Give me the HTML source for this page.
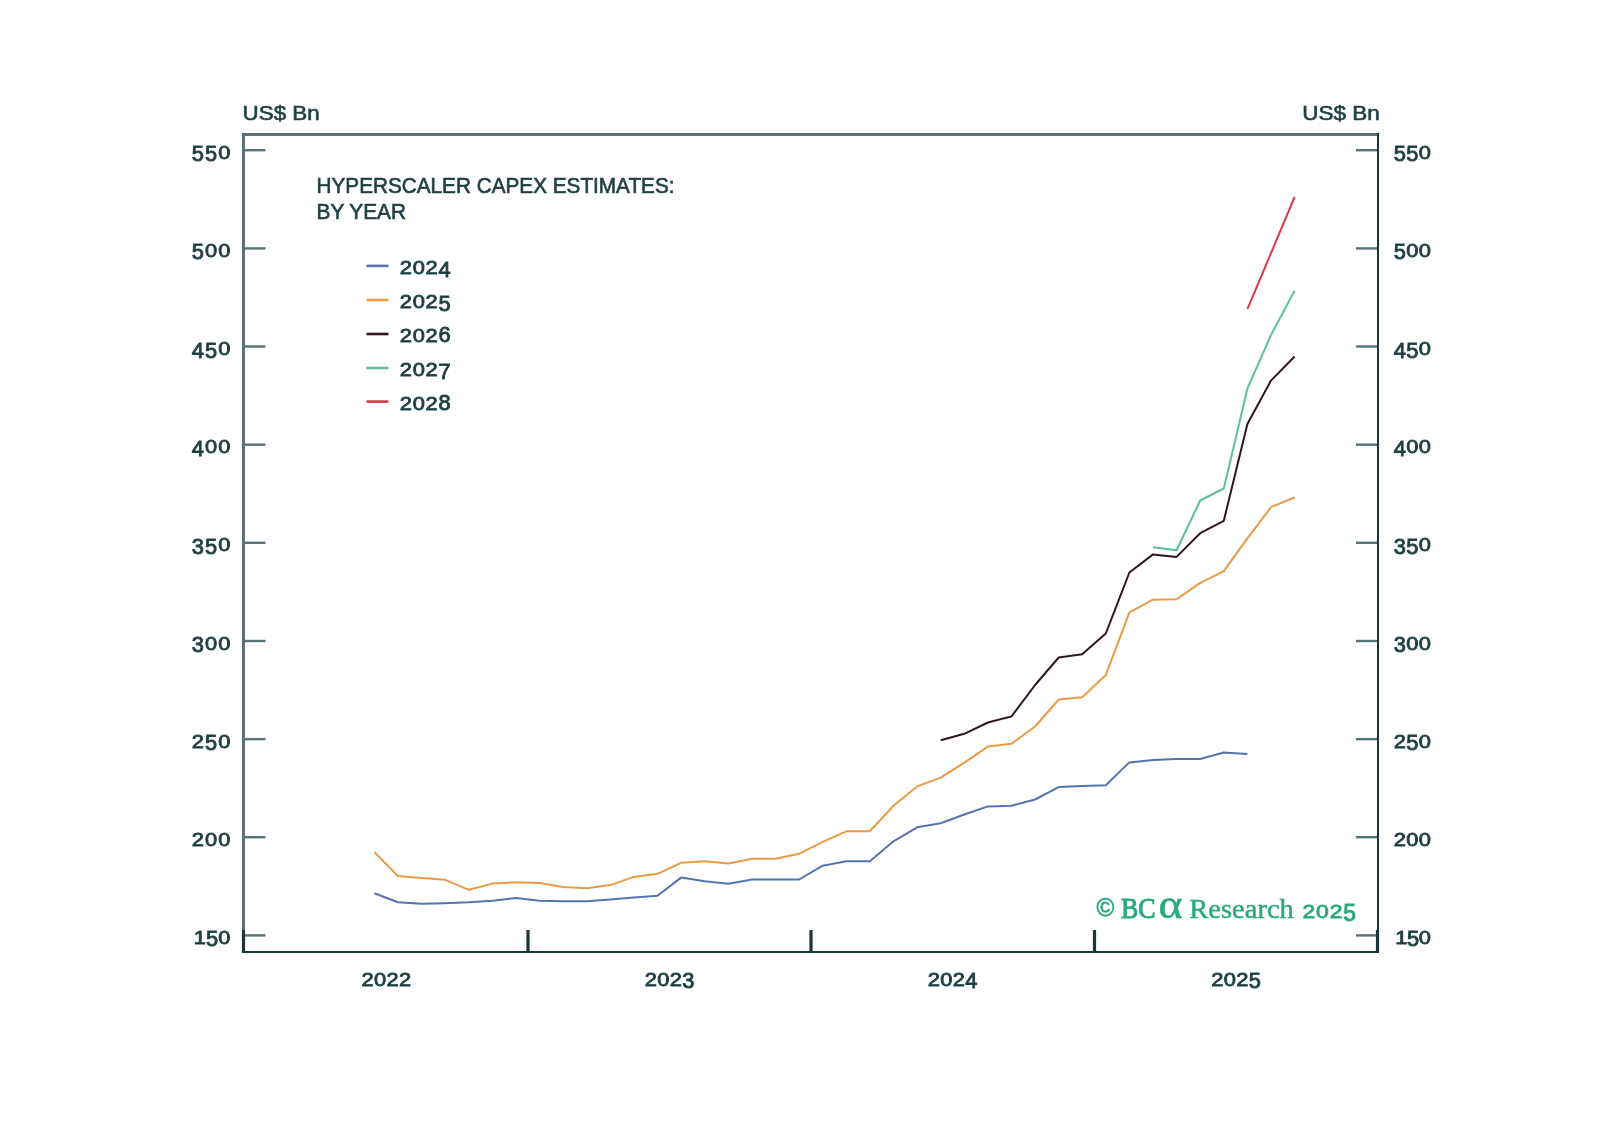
<!DOCTYPE html><html><head><meta charset="utf-8"><title>Hyperscaler Capex Estimates</title>
<style>html,body{margin:0;padding:0;background:#fff;}svg{display:block;}text{font-family:"Liberation Sans",sans-serif;}</style></head><body>
<svg width="1598" height="1144" viewBox="0 0 1598 1144">
<rect width="1598" height="1144" fill="#fff"/>
<g opacity="0.999">
<text x="242.6" y="120.4" font-size="21" fill="#1f3f40" stroke="#1f3f40" stroke-width="0.65" textLength="77" lengthAdjust="spacingAndGlyphs">US$ Bn</text>
<text x="1302.2" y="120.4" font-size="21" fill="#1f3f40" stroke="#1f3f40" stroke-width="0.65" textLength="77.5" lengthAdjust="spacingAndGlyphs">US$ Bn</text>
<rect x="242" y="133" width="3" height="820" fill="#587276"/>
<rect x="242" y="133" width="1137" height="3" fill="#587276"/>
<rect x="1377" y="133" width="2" height="820" fill="#1a3437"/>
<rect x="242" y="951" width="1137" height="2" fill="#1a3437"/>
<rect x="245" y="149.0" width="20.5" height="2.4" fill="#587276"/>
<rect x="1356" y="149.0" width="21" height="2.4" fill="#587276"/>
<text transform="matrix(1.151 0 0 1.173 197.85 161.20)" x="0" y="0" font-size="19" font-weight="normal" fill="#1f3f40" stroke="#1f3f40" stroke-width="0.77" text-anchor="middle">5</text><text transform="matrix(1.151 0 0 1.173 211.05 161.20)" x="0" y="0" font-size="19" font-weight="normal" fill="#1f3f40" stroke="#1f3f40" stroke-width="0.77" text-anchor="middle">5</text><text transform="matrix(1.151 0 0 0.992 224.25 158.80)" x="0" y="0" font-size="19" font-weight="normal" fill="#1f3f40" stroke="#1f3f40" stroke-width="0.84" text-anchor="middle">0</text>
<text transform="matrix(1.151 0 0 1.173 1399.75 161.20)" x="0" y="0" font-size="19" font-weight="normal" fill="#1f3f40" stroke="#1f3f40" stroke-width="0.77" text-anchor="middle">5</text><text transform="matrix(1.151 0 0 1.173 1412.25 161.20)" x="0" y="0" font-size="19" font-weight="normal" fill="#1f3f40" stroke="#1f3f40" stroke-width="0.77" text-anchor="middle">5</text><text transform="matrix(1.151 0 0 0.992 1424.75 158.80)" x="0" y="0" font-size="19" font-weight="normal" fill="#1f3f40" stroke="#1f3f40" stroke-width="0.84" text-anchor="middle">0</text>
<rect x="245" y="247.2" width="20.5" height="2.4" fill="#587276"/>
<rect x="1356" y="247.2" width="21" height="2.4" fill="#587276"/>
<text transform="matrix(1.151 0 0 1.173 197.85 259.35)" x="0" y="0" font-size="19" font-weight="normal" fill="#1f3f40" stroke="#1f3f40" stroke-width="0.77" text-anchor="middle">5</text><text transform="matrix(1.151 0 0 0.992 211.05 256.95)" x="0" y="0" font-size="19" font-weight="normal" fill="#1f3f40" stroke="#1f3f40" stroke-width="0.84" text-anchor="middle">0</text><text transform="matrix(1.151 0 0 0.992 224.25 256.95)" x="0" y="0" font-size="19" font-weight="normal" fill="#1f3f40" stroke="#1f3f40" stroke-width="0.84" text-anchor="middle">0</text>
<text transform="matrix(1.151 0 0 1.173 1399.75 259.35)" x="0" y="0" font-size="19" font-weight="normal" fill="#1f3f40" stroke="#1f3f40" stroke-width="0.77" text-anchor="middle">5</text><text transform="matrix(1.151 0 0 0.992 1412.25 256.95)" x="0" y="0" font-size="19" font-weight="normal" fill="#1f3f40" stroke="#1f3f40" stroke-width="0.84" text-anchor="middle">0</text><text transform="matrix(1.151 0 0 0.992 1424.75 256.95)" x="0" y="0" font-size="19" font-weight="normal" fill="#1f3f40" stroke="#1f3f40" stroke-width="0.84" text-anchor="middle">0</text>
<rect x="245" y="345.3" width="20.5" height="2.4" fill="#587276"/>
<rect x="1356" y="345.3" width="21" height="2.4" fill="#587276"/>
<text transform="matrix(1.151 0 0 1.173 197.85 357.50)" x="0" y="0" font-size="19" font-weight="normal" fill="#1f3f40" stroke="#1f3f40" stroke-width="0.77" text-anchor="middle">4</text><text transform="matrix(1.151 0 0 1.173 211.05 357.50)" x="0" y="0" font-size="19" font-weight="normal" fill="#1f3f40" stroke="#1f3f40" stroke-width="0.77" text-anchor="middle">5</text><text transform="matrix(1.151 0 0 0.992 224.25 355.10)" x="0" y="0" font-size="19" font-weight="normal" fill="#1f3f40" stroke="#1f3f40" stroke-width="0.84" text-anchor="middle">0</text>
<text transform="matrix(1.151 0 0 1.173 1399.75 357.50)" x="0" y="0" font-size="19" font-weight="normal" fill="#1f3f40" stroke="#1f3f40" stroke-width="0.77" text-anchor="middle">4</text><text transform="matrix(1.151 0 0 1.173 1412.25 357.50)" x="0" y="0" font-size="19" font-weight="normal" fill="#1f3f40" stroke="#1f3f40" stroke-width="0.77" text-anchor="middle">5</text><text transform="matrix(1.151 0 0 0.992 1424.75 355.10)" x="0" y="0" font-size="19" font-weight="normal" fill="#1f3f40" stroke="#1f3f40" stroke-width="0.84" text-anchor="middle">0</text>
<rect x="245" y="443.5" width="20.5" height="2.4" fill="#587276"/>
<rect x="1356" y="443.5" width="21" height="2.4" fill="#587276"/>
<text transform="matrix(1.151 0 0 1.173 197.85 455.65)" x="0" y="0" font-size="19" font-weight="normal" fill="#1f3f40" stroke="#1f3f40" stroke-width="0.77" text-anchor="middle">4</text><text transform="matrix(1.151 0 0 0.992 211.05 453.25)" x="0" y="0" font-size="19" font-weight="normal" fill="#1f3f40" stroke="#1f3f40" stroke-width="0.84" text-anchor="middle">0</text><text transform="matrix(1.151 0 0 0.992 224.25 453.25)" x="0" y="0" font-size="19" font-weight="normal" fill="#1f3f40" stroke="#1f3f40" stroke-width="0.84" text-anchor="middle">0</text>
<text transform="matrix(1.151 0 0 1.173 1399.75 455.65)" x="0" y="0" font-size="19" font-weight="normal" fill="#1f3f40" stroke="#1f3f40" stroke-width="0.77" text-anchor="middle">4</text><text transform="matrix(1.151 0 0 0.992 1412.25 453.25)" x="0" y="0" font-size="19" font-weight="normal" fill="#1f3f40" stroke="#1f3f40" stroke-width="0.84" text-anchor="middle">0</text><text transform="matrix(1.151 0 0 0.992 1424.75 453.25)" x="0" y="0" font-size="19" font-weight="normal" fill="#1f3f40" stroke="#1f3f40" stroke-width="0.84" text-anchor="middle">0</text>
<rect x="245" y="541.6" width="20.5" height="2.4" fill="#587276"/>
<rect x="1356" y="541.6" width="21" height="2.4" fill="#587276"/>
<text transform="matrix(1.151 0 0 1.173 197.85 553.80)" x="0" y="0" font-size="19" font-weight="normal" fill="#1f3f40" stroke="#1f3f40" stroke-width="0.77" text-anchor="middle">3</text><text transform="matrix(1.151 0 0 1.173 211.05 553.80)" x="0" y="0" font-size="19" font-weight="normal" fill="#1f3f40" stroke="#1f3f40" stroke-width="0.77" text-anchor="middle">5</text><text transform="matrix(1.151 0 0 0.992 224.25 551.40)" x="0" y="0" font-size="19" font-weight="normal" fill="#1f3f40" stroke="#1f3f40" stroke-width="0.84" text-anchor="middle">0</text>
<text transform="matrix(1.151 0 0 1.173 1399.75 553.80)" x="0" y="0" font-size="19" font-weight="normal" fill="#1f3f40" stroke="#1f3f40" stroke-width="0.77" text-anchor="middle">3</text><text transform="matrix(1.151 0 0 1.173 1412.25 553.80)" x="0" y="0" font-size="19" font-weight="normal" fill="#1f3f40" stroke="#1f3f40" stroke-width="0.77" text-anchor="middle">5</text><text transform="matrix(1.151 0 0 0.992 1424.75 551.40)" x="0" y="0" font-size="19" font-weight="normal" fill="#1f3f40" stroke="#1f3f40" stroke-width="0.84" text-anchor="middle">0</text>
<rect x="245" y="639.8" width="20.5" height="2.4" fill="#587276"/>
<rect x="1356" y="639.8" width="21" height="2.4" fill="#587276"/>
<text transform="matrix(1.151 0 0 1.173 197.85 651.95)" x="0" y="0" font-size="19" font-weight="normal" fill="#1f3f40" stroke="#1f3f40" stroke-width="0.77" text-anchor="middle">3</text><text transform="matrix(1.151 0 0 0.992 211.05 649.55)" x="0" y="0" font-size="19" font-weight="normal" fill="#1f3f40" stroke="#1f3f40" stroke-width="0.84" text-anchor="middle">0</text><text transform="matrix(1.151 0 0 0.992 224.25 649.55)" x="0" y="0" font-size="19" font-weight="normal" fill="#1f3f40" stroke="#1f3f40" stroke-width="0.84" text-anchor="middle">0</text>
<text transform="matrix(1.151 0 0 1.173 1399.75 651.95)" x="0" y="0" font-size="19" font-weight="normal" fill="#1f3f40" stroke="#1f3f40" stroke-width="0.77" text-anchor="middle">3</text><text transform="matrix(1.151 0 0 0.992 1412.25 649.55)" x="0" y="0" font-size="19" font-weight="normal" fill="#1f3f40" stroke="#1f3f40" stroke-width="0.84" text-anchor="middle">0</text><text transform="matrix(1.151 0 0 0.992 1424.75 649.55)" x="0" y="0" font-size="19" font-weight="normal" fill="#1f3f40" stroke="#1f3f40" stroke-width="0.84" text-anchor="middle">0</text>
<rect x="245" y="737.9" width="20.5" height="2.4" fill="#587276"/>
<rect x="1356" y="737.9" width="21" height="2.4" fill="#587276"/>
<text transform="matrix(1.151 0 0 0.992 197.85 747.70)" x="0" y="0" font-size="19" font-weight="normal" fill="#1f3f40" stroke="#1f3f40" stroke-width="0.84" text-anchor="middle">2</text><text transform="matrix(1.151 0 0 1.173 211.05 750.10)" x="0" y="0" font-size="19" font-weight="normal" fill="#1f3f40" stroke="#1f3f40" stroke-width="0.77" text-anchor="middle">5</text><text transform="matrix(1.151 0 0 0.992 224.25 747.70)" x="0" y="0" font-size="19" font-weight="normal" fill="#1f3f40" stroke="#1f3f40" stroke-width="0.84" text-anchor="middle">0</text>
<text transform="matrix(1.151 0 0 0.992 1399.75 747.70)" x="0" y="0" font-size="19" font-weight="normal" fill="#1f3f40" stroke="#1f3f40" stroke-width="0.84" text-anchor="middle">2</text><text transform="matrix(1.151 0 0 1.173 1412.25 750.10)" x="0" y="0" font-size="19" font-weight="normal" fill="#1f3f40" stroke="#1f3f40" stroke-width="0.77" text-anchor="middle">5</text><text transform="matrix(1.151 0 0 0.992 1424.75 747.70)" x="0" y="0" font-size="19" font-weight="normal" fill="#1f3f40" stroke="#1f3f40" stroke-width="0.84" text-anchor="middle">0</text>
<rect x="245" y="836.0" width="20.5" height="2.4" fill="#587276"/>
<rect x="1356" y="836.0" width="21" height="2.4" fill="#587276"/>
<text transform="matrix(1.151 0 0 0.992 197.85 845.85)" x="0" y="0" font-size="19" font-weight="normal" fill="#1f3f40" stroke="#1f3f40" stroke-width="0.84" text-anchor="middle">2</text><text transform="matrix(1.151 0 0 0.992 211.05 845.85)" x="0" y="0" font-size="19" font-weight="normal" fill="#1f3f40" stroke="#1f3f40" stroke-width="0.84" text-anchor="middle">0</text><text transform="matrix(1.151 0 0 0.992 224.25 845.85)" x="0" y="0" font-size="19" font-weight="normal" fill="#1f3f40" stroke="#1f3f40" stroke-width="0.84" text-anchor="middle">0</text>
<text transform="matrix(1.151 0 0 0.992 1399.75 845.85)" x="0" y="0" font-size="19" font-weight="normal" fill="#1f3f40" stroke="#1f3f40" stroke-width="0.84" text-anchor="middle">2</text><text transform="matrix(1.151 0 0 0.992 1412.25 845.85)" x="0" y="0" font-size="19" font-weight="normal" fill="#1f3f40" stroke="#1f3f40" stroke-width="0.84" text-anchor="middle">0</text><text transform="matrix(1.151 0 0 0.992 1424.75 845.85)" x="0" y="0" font-size="19" font-weight="normal" fill="#1f3f40" stroke="#1f3f40" stroke-width="0.84" text-anchor="middle">0</text>
<rect x="245" y="934.2" width="20.5" height="2.4" fill="#587276"/>
<rect x="1356" y="934.2" width="21" height="2.4" fill="#587276"/>
<text transform="matrix(1.151 0 0 0.992 199.95 944.00)" x="0" y="0" font-size="19" font-weight="normal" fill="#1f3f40" stroke="#1f3f40" stroke-width="0.84" text-anchor="middle">1</text><text transform="matrix(1.151 0 0 1.173 212.10 946.40)" x="0" y="0" font-size="19" font-weight="normal" fill="#1f3f40" stroke="#1f3f40" stroke-width="0.77" text-anchor="middle">5</text><text transform="matrix(1.151 0 0 0.992 224.25 944.00)" x="0" y="0" font-size="19" font-weight="normal" fill="#1f3f40" stroke="#1f3f40" stroke-width="0.84" text-anchor="middle">0</text>
<text transform="matrix(1.151 0 0 0.992 1401.25 944.00)" x="0" y="0" font-size="19" font-weight="normal" fill="#1f3f40" stroke="#1f3f40" stroke-width="0.84" text-anchor="middle">1</text><text transform="matrix(1.151 0 0 1.173 1413.00 946.40)" x="0" y="0" font-size="19" font-weight="normal" fill="#1f3f40" stroke="#1f3f40" stroke-width="0.77" text-anchor="middle">5</text><text transform="matrix(1.151 0 0 0.992 1424.75 944.00)" x="0" y="0" font-size="19" font-weight="normal" fill="#1f3f40" stroke="#1f3f40" stroke-width="0.84" text-anchor="middle">0</text>
<rect x="241.9" y="930" width="3.2" height="22" fill="#1a3437"/>
<rect x="526.4" y="930" width="3.2" height="22" fill="#1a3437"/>
<rect x="809.4" y="930" width="3.2" height="22" fill="#1a3437"/>
<rect x="1092.9" y="930" width="3.2" height="22" fill="#1a3437"/>
<rect x="1375.9" y="930" width="3.2" height="22" fill="#1a3437"/>
<text transform="matrix(1.151 0 0 0.992 367.55 986.00)" x="0" y="0" font-size="19" font-weight="normal" fill="#1f3f40" stroke="#1f3f40" stroke-width="0.84" text-anchor="middle">2</text><text transform="matrix(1.151 0 0 0.992 380.05 986.00)" x="0" y="0" font-size="19" font-weight="normal" fill="#1f3f40" stroke="#1f3f40" stroke-width="0.84" text-anchor="middle">0</text><text transform="matrix(1.151 0 0 0.992 392.55 986.00)" x="0" y="0" font-size="19" font-weight="normal" fill="#1f3f40" stroke="#1f3f40" stroke-width="0.84" text-anchor="middle">2</text><text transform="matrix(1.151 0 0 0.992 405.05 986.00)" x="0" y="0" font-size="19" font-weight="normal" fill="#1f3f40" stroke="#1f3f40" stroke-width="0.84" text-anchor="middle">2</text>
<text transform="matrix(1.151 0 0 0.992 650.75 986.00)" x="0" y="0" font-size="19" font-weight="normal" fill="#1f3f40" stroke="#1f3f40" stroke-width="0.84" text-anchor="middle">2</text><text transform="matrix(1.151 0 0 0.992 663.25 986.00)" x="0" y="0" font-size="19" font-weight="normal" fill="#1f3f40" stroke="#1f3f40" stroke-width="0.84" text-anchor="middle">0</text><text transform="matrix(1.151 0 0 0.992 675.75 986.00)" x="0" y="0" font-size="19" font-weight="normal" fill="#1f3f40" stroke="#1f3f40" stroke-width="0.84" text-anchor="middle">2</text><text transform="matrix(1.151 0 0 1.173 688.25 988.40)" x="0" y="0" font-size="19" font-weight="normal" fill="#1f3f40" stroke="#1f3f40" stroke-width="0.77" text-anchor="middle">3</text>
<text transform="matrix(1.151 0 0 0.992 933.75 986.00)" x="0" y="0" font-size="19" font-weight="normal" fill="#1f3f40" stroke="#1f3f40" stroke-width="0.84" text-anchor="middle">2</text><text transform="matrix(1.151 0 0 0.992 946.25 986.00)" x="0" y="0" font-size="19" font-weight="normal" fill="#1f3f40" stroke="#1f3f40" stroke-width="0.84" text-anchor="middle">0</text><text transform="matrix(1.151 0 0 0.992 958.75 986.00)" x="0" y="0" font-size="19" font-weight="normal" fill="#1f3f40" stroke="#1f3f40" stroke-width="0.84" text-anchor="middle">2</text><text transform="matrix(1.151 0 0 1.173 971.25 988.40)" x="0" y="0" font-size="19" font-weight="normal" fill="#1f3f40" stroke="#1f3f40" stroke-width="0.77" text-anchor="middle">4</text>
<text transform="matrix(1.151 0 0 0.992 1217.25 986.00)" x="0" y="0" font-size="19" font-weight="normal" fill="#1f3f40" stroke="#1f3f40" stroke-width="0.84" text-anchor="middle">2</text><text transform="matrix(1.151 0 0 0.992 1229.75 986.00)" x="0" y="0" font-size="19" font-weight="normal" fill="#1f3f40" stroke="#1f3f40" stroke-width="0.84" text-anchor="middle">0</text><text transform="matrix(1.151 0 0 0.992 1242.25 986.00)" x="0" y="0" font-size="19" font-weight="normal" fill="#1f3f40" stroke="#1f3f40" stroke-width="0.84" text-anchor="middle">2</text><text transform="matrix(1.151 0 0 1.173 1254.75 988.40)" x="0" y="0" font-size="19" font-weight="normal" fill="#1f3f40" stroke="#1f3f40" stroke-width="0.77" text-anchor="middle">5</text>
<text x="316.5" y="192.5" font-size="21.6" fill="#1f3f40" stroke="#1f3f40" stroke-width="0.65" textLength="358" lengthAdjust="spacingAndGlyphs">HYPERSCALER CAPEX ESTIMATES:</text>
<text x="316.5" y="218.5" font-size="21.6" fill="#1f3f40" stroke="#1f3f40" stroke-width="0.65" textLength="89.5" lengthAdjust="spacingAndGlyphs">BY YEAR</text>
<rect x="366.5" y="264.6" width="22" height="2.6" fill="#5673b0"/>
<text transform="matrix(1.151 0 0 0.992 405.95 274.20)" x="0" y="0" font-size="19" font-weight="normal" fill="#1f3f40" stroke="#1f3f40" stroke-width="0.84" text-anchor="middle">2</text><text transform="matrix(1.151 0 0 0.992 418.82 274.20)" x="0" y="0" font-size="19" font-weight="normal" fill="#1f3f40" stroke="#1f3f40" stroke-width="0.84" text-anchor="middle">0</text><text transform="matrix(1.151 0 0 0.992 431.68 274.20)" x="0" y="0" font-size="19" font-weight="normal" fill="#1f3f40" stroke="#1f3f40" stroke-width="0.84" text-anchor="middle">2</text><text transform="matrix(1.151 0 0 1.173 444.55 276.60)" x="0" y="0" font-size="19" font-weight="normal" fill="#1f3f40" stroke="#1f3f40" stroke-width="0.77" text-anchor="middle">4</text>
<rect x="366.5" y="298.7" width="22" height="2.6" fill="#e99b46"/>
<text transform="matrix(1.151 0 0 0.992 405.95 308.30)" x="0" y="0" font-size="19" font-weight="normal" fill="#1f3f40" stroke="#1f3f40" stroke-width="0.84" text-anchor="middle">2</text><text transform="matrix(1.151 0 0 0.992 418.82 308.30)" x="0" y="0" font-size="19" font-weight="normal" fill="#1f3f40" stroke="#1f3f40" stroke-width="0.84" text-anchor="middle">0</text><text transform="matrix(1.151 0 0 0.992 431.68 308.30)" x="0" y="0" font-size="19" font-weight="normal" fill="#1f3f40" stroke="#1f3f40" stroke-width="0.84" text-anchor="middle">2</text><text transform="matrix(1.151 0 0 1.173 444.55 310.70)" x="0" y="0" font-size="19" font-weight="normal" fill="#1f3f40" stroke="#1f3f40" stroke-width="0.77" text-anchor="middle">5</text>
<rect x="366.5" y="332.7" width="22" height="2.6" fill="#321522"/>
<text transform="matrix(1.151 0 0 0.992 405.95 342.30)" x="0" y="0" font-size="19" font-weight="normal" fill="#1f3f40" stroke="#1f3f40" stroke-width="0.84" text-anchor="middle">2</text><text transform="matrix(1.151 0 0 0.992 418.82 342.30)" x="0" y="0" font-size="19" font-weight="normal" fill="#1f3f40" stroke="#1f3f40" stroke-width="0.84" text-anchor="middle">0</text><text transform="matrix(1.151 0 0 0.992 431.68 342.30)" x="0" y="0" font-size="19" font-weight="normal" fill="#1f3f40" stroke="#1f3f40" stroke-width="0.84" text-anchor="middle">2</text><text transform="matrix(1.151 0 0 1.173 444.55 342.30)" x="0" y="0" font-size="19" font-weight="normal" fill="#1f3f40" stroke="#1f3f40" stroke-width="0.77" text-anchor="middle">6</text>
<rect x="366.5" y="366.7" width="22" height="2.6" fill="#5fbea3"/>
<text transform="matrix(1.151 0 0 0.992 405.95 376.30)" x="0" y="0" font-size="19" font-weight="normal" fill="#1f3f40" stroke="#1f3f40" stroke-width="0.84" text-anchor="middle">2</text><text transform="matrix(1.151 0 0 0.992 418.82 376.30)" x="0" y="0" font-size="19" font-weight="normal" fill="#1f3f40" stroke="#1f3f40" stroke-width="0.84" text-anchor="middle">0</text><text transform="matrix(1.151 0 0 0.992 431.68 376.30)" x="0" y="0" font-size="19" font-weight="normal" fill="#1f3f40" stroke="#1f3f40" stroke-width="0.84" text-anchor="middle">2</text><text transform="matrix(1.151 0 0 1.173 444.55 378.70)" x="0" y="0" font-size="19" font-weight="normal" fill="#1f3f40" stroke="#1f3f40" stroke-width="0.77" text-anchor="middle">7</text>
<rect x="366.5" y="400.3" width="22" height="2.6" fill="#d33c46"/>
<text transform="matrix(1.151 0 0 0.992 405.95 409.90)" x="0" y="0" font-size="19" font-weight="normal" fill="#1f3f40" stroke="#1f3f40" stroke-width="0.84" text-anchor="middle">2</text><text transform="matrix(1.151 0 0 0.992 418.82 409.90)" x="0" y="0" font-size="19" font-weight="normal" fill="#1f3f40" stroke="#1f3f40" stroke-width="0.84" text-anchor="middle">0</text><text transform="matrix(1.151 0 0 0.992 431.68 409.90)" x="0" y="0" font-size="19" font-weight="normal" fill="#1f3f40" stroke="#1f3f40" stroke-width="0.84" text-anchor="middle">2</text><text transform="matrix(1.151 0 0 1.173 444.55 409.90)" x="0" y="0" font-size="19" font-weight="normal" fill="#1f3f40" stroke="#1f3f40" stroke-width="0.77" text-anchor="middle">8</text>
<polyline fill="none" stroke="#5673b0" stroke-width="2.0" stroke-linejoin="round" points="374.4,893.2 398.0,902.3 421.6,903.8 445.2,903.2 468.8,902.3 492.4,900.7 516.0,898.0 539.6,900.7 563.2,901.3 586.8,901.3 610.3,899.5 633.9,897.6 657.5,895.7 681.1,877.6 704.7,881.3 728.3,883.8 751.9,879.5 775.5,879.5 799.1,879.5 822.7,865.7 846.3,861.3 869.9,861.3 893.5,841.3 917.1,827.3 940.7,823.3 964.3,814.5 987.9,806.4 1011.5,805.8 1035.1,799.5 1058.7,787.1 1082.2,786.0 1105.8,785.2 1129.4,762.4 1153.0,760.0 1176.6,759.0 1200.2,759.0 1223.8,752.5 1247.4,754.0"/>
<polyline fill="none" stroke="#e99b46" stroke-width="2.0" stroke-linejoin="round" points="374.4,852.3 398.0,876.0 421.6,878.0 445.2,879.8 468.8,889.8 492.4,883.6 516.0,882.3 539.6,883.0 563.2,886.9 586.8,888.2 610.3,885.1 633.9,876.9 657.5,873.8 681.1,862.8 704.7,861.3 728.3,863.5 751.9,858.8 775.5,858.8 799.1,853.8 822.7,841.9 846.3,831.3 869.9,831.3 893.5,805.7 917.1,786.4 940.7,777.6 964.3,762.6 987.9,746.6 1011.5,743.8 1035.1,726.5 1058.7,699.5 1082.2,697.2 1105.8,675.1 1129.4,612.4 1153.0,599.7 1176.6,599.3 1200.2,582.9 1223.8,571.1 1247.4,538.4 1271.0,507.2 1294.6,497.5"/>
<polyline fill="none" stroke="#321522" stroke-width="2.0" stroke-linejoin="round" points="940.7,740.3 964.3,733.8 987.9,722.5 1011.5,716.4 1035.1,685.0 1058.7,657.5 1082.2,654.2 1105.8,633.5 1129.4,572.5 1153.0,554.4 1176.6,556.9 1200.2,533.2 1223.8,520.8 1247.4,423.9 1271.0,380.6 1294.6,356.5"/>
<polyline fill="none" stroke="#5fbea3" stroke-width="2.0" stroke-linejoin="round" points="1153.0,547.3 1176.6,550.2 1200.2,500.5 1223.8,488.5 1247.4,388.7 1271.0,335.0 1294.6,290.8"/>
<polyline fill="none" stroke="#d33c46" stroke-width="2.0" stroke-linejoin="round" points="1247.4,309.2 1271.0,253.1 1294.6,197.0"/>
<text x="1096.6" y="916" style="font-family:'Liberation Sans',sans-serif" font-size="25" fill="#2aa981" stroke="#2aa981" stroke-width="0.7" textLength="17.8" lengthAdjust="spacingAndGlyphs">©</text>
<text x="1121" y="917.5" style="font-family:'Liberation Serif',serif" font-size="28.5" fill="#2aa981" stroke="#2aa981" stroke-width="1.0" textLength="34.5" lengthAdjust="spacingAndGlyphs">BC</text>
<text x="1158.5" y="917.5" style="font-family:'Liberation Serif',serif" font-size="42" fill="#2aa981" stroke="#2aa981" stroke-width="0.6" textLength="24" lengthAdjust="spacingAndGlyphs">α</text>
<text x="1189.3" y="917.5" style="font-family:'Liberation Serif',serif" font-size="28" fill="#2aa981" stroke="#2aa981" stroke-width="0.45" textLength="104.5" lengthAdjust="spacingAndGlyphs">Research</text>
<text transform="matrix(1.206 0 0 1.000 1308.80 917.60)" x="0" y="0" font-size="19" font-weight="normal" fill="#2aa981" stroke="#2aa981" stroke-width="0.82" text-anchor="middle">2</text><text transform="matrix(1.206 0 0 1.000 1322.40 917.60)" x="0" y="0" font-size="19" font-weight="normal" fill="#2aa981" stroke="#2aa981" stroke-width="0.82" text-anchor="middle">0</text><text transform="matrix(1.206 0 0 1.000 1336.00 917.60)" x="0" y="0" font-size="19" font-weight="normal" fill="#2aa981" stroke="#2aa981" stroke-width="0.82" text-anchor="middle">2</text><text transform="matrix(1.206 0 0 1.263 1349.60 921.10)" x="0" y="0" font-size="19" font-weight="normal" fill="#2aa981" stroke="#2aa981" stroke-width="0.73" text-anchor="middle">5</text>
</g>
</svg></body></html>
